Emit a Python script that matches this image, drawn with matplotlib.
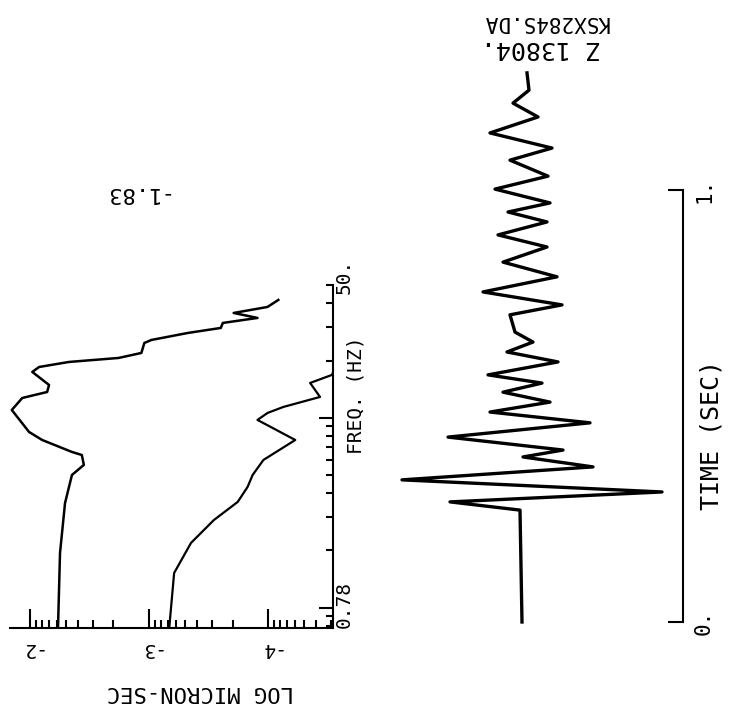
import numpy as np
import matplotlib
matplotlib.use("Agg")
import matplotlib.pyplot as plt
import matplotlib.transforms as mtrans
from matplotlib.ticker import FixedLocator, NullFormatter, LogLocator

plt.rcParams['font.family'] = ['DejaVu Sans Mono']

# SPECTRA (log amplitude vs frequency in Hz)
freq_a = [0.78, 1.94, 3.55, 4.99, 5.64, 6.36, 6.60, 7.63, 8.41, 10.98, 12.70,
          13.66, 14.87, 17.42, 18.50, 19.66, 20.64, 21.93, 24.75, 25.67, 27.96,
          29.70, 31.56, 33.53, 35.62, 38.31, 41.72]
logamp_a = [-2.233, -2.25, -2.292, -2.35, -2.45, -2.433, -2.35, -2.10, -1.99,
            -1.845, -1.933, -2.142, -2.158, -2.017, -2.075, -2.325, -2.742,
            -2.933, -2.958, -3.017, -3.325, -3.60, -3.617, -3.908, -3.708,
            -3.992, -4.083]

freq_b = [0.78, 1.52, 2.19, 2.89, 3.60, 4.32, 4.99, 5.99, 7.63, 9.73, 10.59,
          11.39, 12.86, 15.24, 16.80, 18.29]
logamp_b = [-3.167, -3.208, -3.35, -3.542, -3.742, -3.825, -3.867, -3.958,
            -4.225, -3.908, -3.992, -4.125, -4.433, -4.35, -4.533, -4.558]

# SEISMOGRAM (time in sec, amplitude in plot units)
trace_t = [0.0, 0.259, 0.278, 0.301, 0.329, 0.359, 0.382, 0.398, 0.428, 0.461,
           0.486, 0.509, 0.532, 0.553, 0.572, 0.602, 0.625, 0.648, 0.671, 0.711,
           0.734, 0.764, 0.799, 0.833, 0.868, 0.896, 0.926, 0.949, 0.970, 1.002,
           1.032, 1.069, 1.097, 1.132, 1.169, 1.201, 1.231, 1.271]
trace_amp = [1, -1, -71, 141, -119, 72, 2, 42, -73, 69, -31, 29, -18, 21, -33,
             37, -14, 12, -6, -11, 41, -38, 36, -18, 26, -23, 26, -13, 29, -26,
             27, -11, 31, -31, 17, -8, 8, 6]

amp_ticks = [-2, -3, -4]
amp_labels = ['-2', '-3', '-4']
station = "KSX284S.DA"
trace_label = "Z 13804."
peak_label = "-1.83"

fig = plt.figure(figsize=(7.32, 7.10), dpi=100)
fig.patch.set_facecolor('white')

# spectrum panel
ax1 = fig.add_axes([10/732, 82/710, 323/732, 343/710])
ax1.plot(logamp_a, freq_a, color='black', lw=1.8, solid_joinstyle='round')
ax1.plot(logamp_b, freq_b, color='black', lw=1.6, solid_joinstyle='round')
ax1.set_xlim(-1.83, -4.542)
ax1.set_yscale('log')
ax1.set_ylim(0.78, 50)
for s in ['top', 'left']:
    ax1.spines[s].set_visible(False)
for s in ['bottom', 'right']:
    ax1.spines[s].set_linewidth(1.5)

minors = [np.log10(k * 10.0**e) for e in (-3, -4, -5) for k in range(2, 10)]
ax1.set_xticks(amp_ticks)
ax1.set_xticklabels(amp_labels)
ax1.xaxis.set_minor_locator(FixedLocator(minors))
ax1.tick_params(axis='x', which='major', direction='in', length=14, width=1.5,
                labelsize=14, labelrotation=180, pad=8)
ax1.tick_params(axis='x', which='minor', direction='in', length=6, width=1.5)

ax1.yaxis.tick_right()
ax1.yaxis.set_major_locator(FixedLocator([1, 10]))
ax1.yaxis.set_minor_locator(LogLocator(base=10, subs=range(2, 10)))
ax1.yaxis.set_major_formatter(NullFormatter())
ax1.yaxis.set_minor_formatter(NullFormatter())
ax1.tick_params(axis='y', which='major', direction='in', length=10, width=1.5)
ax1.tick_params(axis='y', which='minor', direction='in', length=5, width=1.5)

tr = mtrans.blended_transform_factory(ax1.transAxes, ax1.transData)
ax1.text(1.034, 0.78, "0.78", transform=tr, rotation=90, ha='center',
         va='bottom', fontsize=14)
ax1.text(1.034, 1.026, "50.", transform=ax1.transAxes, rotation=90,
         ha='center', va='center', fontsize=14)
ax1.text(0.387, 1.268, peak_label, transform=ax1.transAxes, rotation=180,
         ha='center', va='center', fontsize=16)

ax1.set_xlabel("LOG MICRON-SEC", fontsize=16, rotation=180, va='center')
ax1.xaxis.set_label_coords(0.588, -0.187)
ax1.set_ylabel("FREQ. (HZ)", fontsize=14, rotation=90, va='center')
ax1.yaxis.set_label_position('right')
ax1.yaxis.set_label_coords(1.043, 0.679)

# seismogram panel
ax2 = fig.add_axes([380/732, 88/710, 303/732, 553/710])
ax2.plot(trace_amp, trace_t, color='black', lw=2.4, clip_on=False,
         solid_joinstyle='round')
ax2.set_xlim(-141, 162)
ax2.set_ylim(0, 1.28)
for s in ['top', 'left', 'bottom']:
    ax2.spines[s].set_visible(False)
ax2.spines['right'].set_linewidth(1.5)
ax2.spines['right'].set_bounds(0, 1)
ax2.set_xticks([])
ax2.yaxis.tick_right()
ax2.set_yticks([0, 1])
ax2.set_yticklabels(['0.', '1.'])
ax2.tick_params(axis='y', direction='in', length=11, width=1.5,
                labelsize=15, labelrotation=90, pad=8)
for lab in ax2.get_yticklabels():
    lab.set_va('center')
ax2.set_ylabel("TIME (SEC)", fontsize=18, rotation=90, va='center')
ax2.yaxis.set_label_position('right')
ax2.yaxis.set_label_coords(1.056, 0.339)

fig.text(541/732, 1 - 48/710, trace_label, rotation=180, ha='center',
         va='center', fontsize=18)
fig.text(546/732, 1 - 22/710, station, rotation=180, ha='center',
         va='center', fontsize=15)

fig.savefig("out.png", dpi=100)
